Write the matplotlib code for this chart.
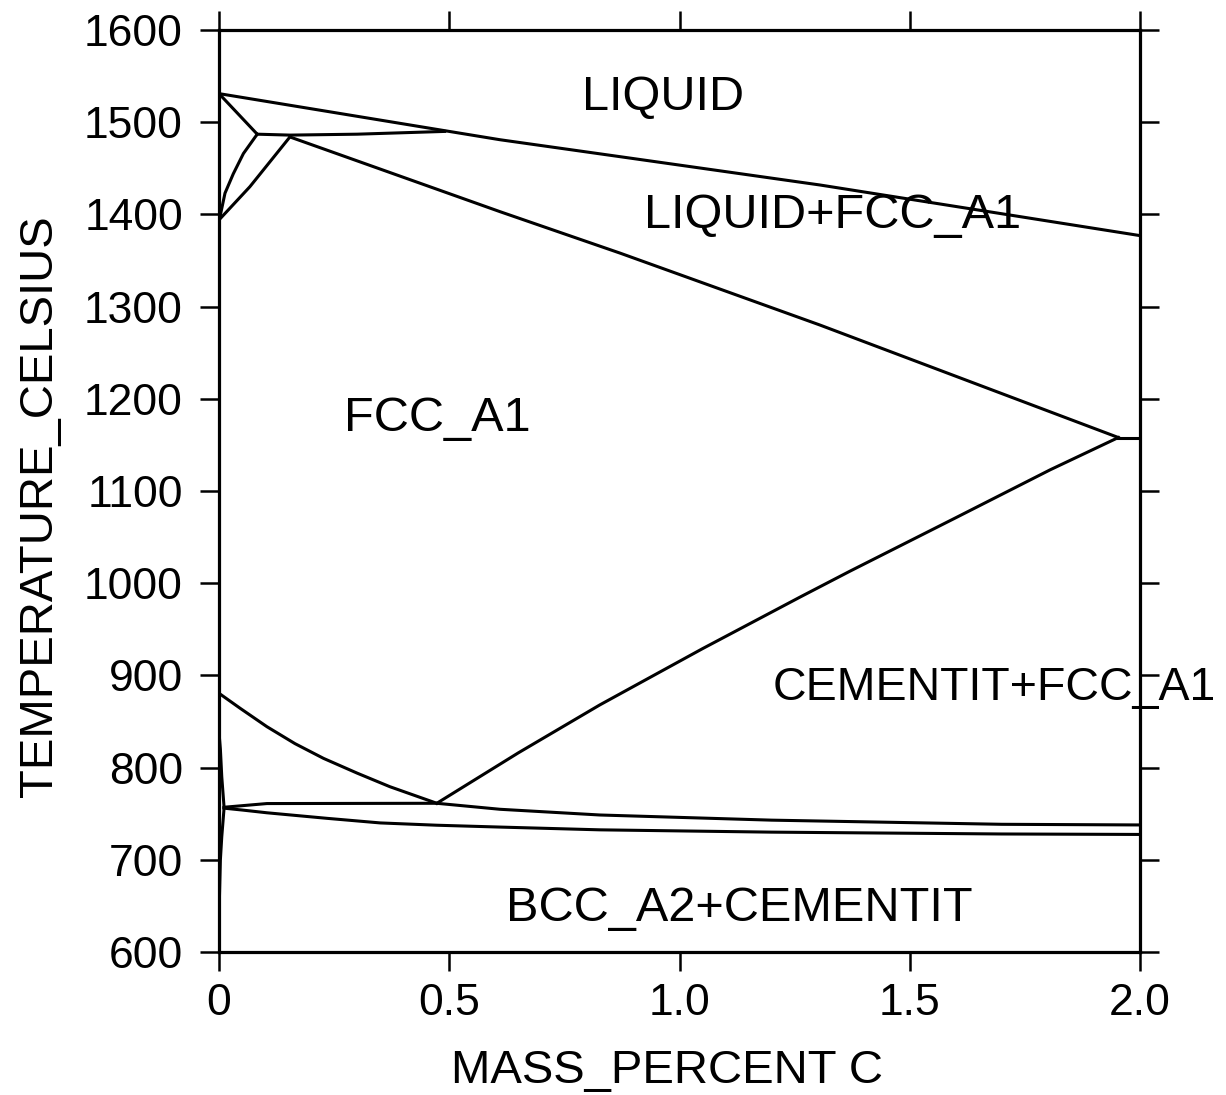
import matplotlib
matplotlib.use("Agg")
import matplotlib.pyplot as plt

plt.rcParams['font.family'] = ['Liberation Sans', 'DejaVu Sans']

# --- phase boundaries (mass % C, deg C) ---
liq_x = [0.0, 0.5, 0.61, 0.871, 1.305, 2.0]
liq_t = [1531, 1490, 1481, 1462.6, 1431.9, 1377]

delta_liq_x = [0.0, 0.083]
delta_liq_t = [1531, 1487]

delta_sol_x = [0.0, 0.002, 0.013, 0.031, 0.053, 0.083]
delta_sol_t = [1394, 1397, 1423, 1444, 1466, 1487]

gamma_delta_x = [0.0, 0.067, 0.154]
gamma_delta_t = [1394, 1430, 1484]

perit_x = [0.083, 0.154, 0.3, 0.49]
perit_t = [1487, 1486, 1487, 1490]

solidus_x = [0.154, 0.61, 0.871, 1.305, 1.953]
solidus_t = [1484, 1403, 1358, 1280, 1158]

eut_x = [1.953, 2.0]
eut_t = [1158, 1158]

acm_x = [0.473, 0.65, 0.827, 1.05, 1.262, 1.370, 1.6, 1.805, 1.953]
acm_t = [761.3, 816, 868, 929, 985, 1013, 1071, 1123, 1158]

a3_x = [0.0, 0.046, 0.104, 0.165, 0.227, 0.3, 0.371, 0.473]
a3_t = [880.6, 864.3, 844.4, 826, 810, 794, 779.3, 761.3]

upper_x = [0.011, 0.104, 0.473, 0.61, 0.827, 1.2, 1.7, 2.0]
upper_t = [757, 761, 761.3, 754.8, 748.6, 743, 738.5, 737.8]

lower_x = [0.011, 0.05, 0.104, 0.234, 0.35, 0.473, 0.61, 0.827, 1.2, 1.7, 2.0]
lower_t = [756, 754, 751, 745, 740, 737.5, 735.5, 732.5, 730, 728, 727.5]

alpha_hi_x = [0.0, 0.003, 0.006, 0.011]
alpha_hi_t = [838, 820, 790, 757]

alpha_lo_x = [0.011, 0.006, 0.003, 0.0]
alpha_lo_t = [756, 725, 700, 640]

boundaries = [(liq_x, liq_t), (delta_liq_x, delta_liq_t), (delta_sol_x, delta_sol_t),
              (gamma_delta_x, gamma_delta_t), (perit_x, perit_t), (solidus_x, solidus_t),
              (eut_x, eut_t), (acm_x, acm_t), (a3_x, a3_t), (upper_x, upper_t),
              (lower_x, lower_t), (alpha_hi_x, alpha_hi_t), (alpha_lo_x, alpha_lo_t)]

# phase labels (text, x, T at baseline, alignment, size)
labels = [("LIQUID", 0.964, 1513, 'center', 35),
          ("LIQUID+FCC_A1", 1.332, 1385, 'center', 35),
          ("FCC_A1", 0.473, 1165, 'center', 35),
          ("CEMENTIT+FCC_A1", 1.203, 873, 'left', 33.5),
          ("BCC_A2+CEMENTIT", 1.129, 634, 'center', 35)]

xticks = [0, 0.5, 1.0, 1.5, 2.0]
xtick_labels = ["0", "0.5", "1.0", "1.5", "2.0"]
yticks = [600, 700, 800, 900, 1000, 1100, 1200, 1300, 1400, 1500, 1600]

fig = plt.figure(figsize=(12.26, 10.95), dpi=100)
ax = fig.add_axes([219/1226, 1 - 952/1095, 921/1226, 922/1095])

for bx, bt in boundaries:
    ax.plot(bx, bt, color='black', lw=2.2, solid_joinstyle='round')

for txt, lx, lt, ha, fs in labels:
    ax.text(lx, lt, txt, fontsize=fs, ha=ha, va='baseline', clip_on=False)

ax.set_xlim(0, 2.0)
ax.set_ylim(600, 1600)
ax.set_xticks(xticks)
ax.set_xticklabels(xtick_labels)
ax.set_yticks(yticks)
ax.tick_params(direction='out', length=14, width=1.8, labelsize=32,
               top=True, right=True)
ax.tick_params(axis='y', pad=12)
ax.tick_params(axis='x', pad=8)
for sp in ax.spines.values():
    sp.set_linewidth(2.3)

ax.set_xlabel("MASS_PERCENT C", fontsize=34)
ax.set_ylabel("TEMPERATURE_CELSIUS", fontsize=34)
ax.xaxis.set_label_coords(0.486, -0.105)
ax.yaxis.set_label_coords(-0.17, 0.483)

fig.savefig("out.png", dpi=100)
